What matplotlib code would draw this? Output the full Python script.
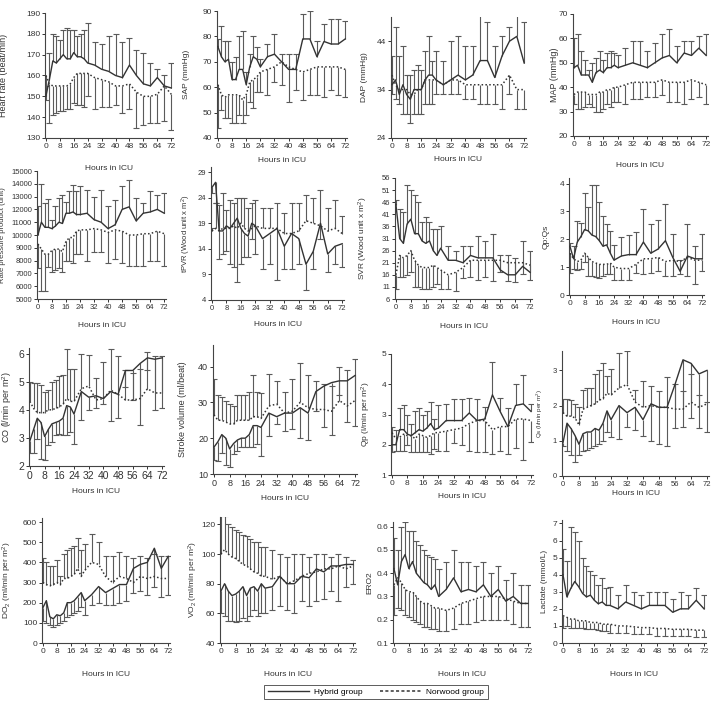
import numpy as np
import matplotlib
matplotlib.use("Agg")
from matplotlib import pyplot as plt
from matplotlib.lines import Line2D

plt.rcParams['font.family'] = ['Liberation Sans', 'DejaVu Sans']
plt.rcParams['mathtext.default'] = 'regular'

# hours in ICU (every 2 h to 24 h, then every 4 h)
hours = [0, 2, 4, 6, 8, 10, 12, 14, 16, 18, 20, 22, 24, 28, 32, 36, 40, 44, 48, 52, 56, 60, 64, 68, 72]
xticks = [0, 8, 16, 24, 32, 40, 48, 56, 64, 72]

# --- Heart rate
hr_hyb = [150, 158, 167, 166, 168, 170, 168, 168, 171, 169, 169, 168, 166, 165, 163, 162, 160, 159, 165, 160, 156, 155, 159, 155, 154]
hr_hyb_sd = [5, 13, 13, 13, 9, 12, 15, 14, 11, 10, 11, 14, 19, 11, 12, 17, 20, 17, 13, 12, 15, 11, 4, 5, 12]
hr_nor = [160, 156, 155, 155, 155, 155, 155, 156, 159, 161, 161, 161, 161, 159, 158, 157, 155, 155, 156, 152, 150, 150, 151, 155, 151]
hr_nor_sd = [12, 19, 14, 13, 12, 12, 11, 12, 12, 15, 15, 16, 11, 15, 13, 12, 9, 13, 12, 17, 14, 13, 14, 17, 17]

# --- SAP
sap_hyb = [76, 72, 70, 71, 63, 63, 67, 67, 61, 68, 72, 71, 68, 72, 73, 70, 67, 67, 79, 79, 72, 78, 77, 77, 79]
sap_hyb_sd = [3, 12, 8, 7, 7, 9, 13, 15, 5, 5, 8, 5, 3, 5, 8, 3, 6, 6, 10, 11, 6, 7, 10, 10, 7]
sap_nor = [61, 57, 56, 57, 57, 57, 57, 55, 57, 62, 63, 64, 66, 67, 68, 70, 68, 67, 66, 67, 68, 68, 68, 68, 67]
sap_nor_sd = [17, 6, 8, 9, 11, 11, 8, 9, 8, 8, 11, 6, 8, 10, 6, 9, 14, 8, 11, 10, 11, 12, 9, 11, 11]

# --- DAP
dap_hyb = [35, 36, 33, 35, 33, 32, 34, 34, 34, 36, 37, 37, 36, 35, 36, 37, 36, 37, 40, 40, 36.5, 41, 44, 45, 39.5]
dap_hyb_sd = [6, 11, 8, 8, 4, 5, 4, 5, 4, 6, 8, 3, 6, 5, 8, 8, 7, 6, 10, 8, 6.5, 4, 3, 5, 8.5]
dap_nor = [37, 35, 34, 34, 34, 33, 33, 34, 34, 36, 36, 36, 36, 35, 36, 36, 35, 35, 35, 35, 35, 35, 37, 34, 34]
dap_nor_sd = [4, 3, 3, 5, 5, 6, 4, 5, 5, 5, 5, 5, 3, 2, 3, 3, 3, 3, 4, 4, 4, 5, 4, 4, 4]

# --- MAP
map_hyb = [48, 49, 45, 45, 45, 42, 46, 47, 46, 48, 48, 49, 48, 49, 50, 49, 48, 50, 52, 53, 50, 54, 53, 56, 53]
map_hyb_sd = [12, 13, 10, 6, 2, 8, 6, 8, 5, 6, 7, 5, 5, 7, 9, 10, 7, 8, 10, 11, 7, 5, 6, 5, 9]
map_nor = [37, 38, 38, 38, 37, 37, 37, 38, 38, 39, 39, 40, 40, 41, 42, 42, 42, 42, 43, 42, 42, 42, 43, 42, 41]
map_nor_sd = [4, 7, 7, 6, 4, 5, 7, 8, 7, 6, 7, 6, 6, 8, 7, 7, 6, 6, 6, 8, 8, 9, 8, 6, 8]

# --- Rate pressure product
rpp_hyb = [10000, 11000, 10600, 10600, 10500, 10700, 11000, 10900, 11700, 11700, 11800, 11600, 11600,
           11700, 11200, 11000, 10500, 10800, 12000, 12200, 11100, 11700, 11800, 12000, 11700]
rpp_hyb_sd = [2300, 3000, 1900, 2200, 700, 1600, 1900, 2200, 900, 1700, 2100, 1800, 2200,
              1800, 1800, 2500, 1800, 1900, 1800, 2100, 1800, 800, 1600, 1100, 1600]
rpp_nor = [9300, 8900, 8500, 8500, 8800, 8900, 8900, 8700, 9500, 9800, 9800, 10300, 10400,
           10400, 10500, 10400, 10200, 10400, 10300, 10000, 10000, 10100, 10100, 10300, 10100]
rpp_nor_sd = [1900, 3300, 2900, 1000, 1700, 1600, 1500, 1600, 1500, 1800, 2000, 1800, 1900,
              2400, 1800, 1700, 2400, 2300, 2500, 2400, 2400, 2500, 2100, 2300, 2500]

# --- tPVR
tpvr_hyb = [26, 27, 17.5, 17.5, 18.5, 18, 19, 20, 18, 17, 16.5, 19, 18.5, 16, 17, 18, 14.5, 17, 16, 11, 13.5, 19, 13, 14.5, 15]
tpvr_hyb_sd = [1, 4, 5.5, 4.5, 5, 7, 8.5, 12.5, 7, 4.5, 4, 3, 5.5, 6, 6, 10, 4.5, 7, 5, 5, 3.5, 3, 3.5, 3.5, 4.5]
tpvr_nor = [17.5, 18, 17.5, 18, 18, 18, 18.5, 18, 19, 18, 17.5, 18, 18.5, 18, 18, 18, 17, 17, 17.5, 19.5, 19, 18.5, 17.5, 18, 17]
tpvr_nor_sd = [0.5, 5, 5, 7, 3.5, 5.5, 4.5, 6, 5, 6, 4.5, 5, 5, 4, 4, 5, 4, 6, 5.5, 5, 5, 7, 4.5, 5.5, 3.5]

# --- SVR
svr_hyb = [45, 31, 29, 37, 39, 33, 33, 30, 29, 30, 26, 24, 27, 22, 22, 21, 24, 23, 23, 23, 18, 16, 16, 19.5, 17]
svr_hyb_sd = [2, 12, 13, 16, 12, 16, 13, 8, 11, 8, 9, 11, 9, 6, 4, 7, 4, 9, 7, 10, 6, 8, 7, 10.5, 9]
svr_nor = [16, 24, 23, 24, 26, 22, 20, 19, 19, 19, 20, 19, 18, 16, 17, 19, 22, 22, 22, 22, 22, 21, 21, 21, 20]
svr_nor_sd = [6, 9, 8, 8, 9, 11, 9, 9, 9, 9, 9, 7, 8, 6, 7.5, 4.5, 7, 8, 7, 8.5, 5, 7.5, 8, 4.5, 6]

# --- Qp:Qs
qpqs_hyb = [1.75, 1.3, 1.9, 2.1, 2.35, 2.3, 2.15, 2.1, 1.95, 1.75, 1.8, 1.5, 1.25, 1.4, 1.45, 1.45, 1.9, 1.5, 1.65, 1.95, 1.35, 0.85, 1.4, 1.3, 1.3]
qpqs_hyb_sd = [0.1, 0.45, 0.75, 0.5, 1.3, 0.85, 1.8, 1.85, 1.4, 1.1, 0.75, 0.8, 0.55, 0.7, 0.7, 0.8, 1.2, 1.05, 1.05, 1.3, 0.85, 0.4, 1.15, 0.45, 0.9]
qpqs_nor = [1.5, 1.3, 1.2, 1.25, 1.5, 1.35, 1.2, 1.15, 1.1, 1.1, 1.1, 1.15, 1.0, 0.95, 0.95, 1.1, 1.3, 1.3, 1.35, 1.2, 1.25, 1.2, 1.35, 1.25, 1.25]
qpqs_nor_sd = [0.7, 0.35, 0.3, 0.3, 0.3, 0.65, 0.5, 0.5, 0.5, 0.4, 0.35, 0.4, 0.45, 0.4, 0.4, 0.3, 0.55, 0.5, 0.5, 0.5, 0.55, 0.45, 0.65, 0.85, 0.4]

# --- CO
co_hyb = [2.9, 3.3, 3.7, 3.55, 3.05, 3.3, 3.5, 3.55, 3.6, 3.7, 4.15, 4.1, 3.85, 4.65, 4.45, 4.5, 4.4, 4.65, 4.55, 5.4, 5.4, 5.65, 5.85, 5.8, 5.85]
co_hyb_sd = [0.45, 0.85, 0.75, 1.3, 0.85, 0.55, 0.65, 0.45, 0.45, 0.6, 1.05, 0.9, 1.05, 1.0, 0.45, 0.45, 0.2, 1.05, 0.85, 0.6, 1.05, 2.2, 0.45, 1.8, 1.8]
co_nor = [4.3, 4.05, 3.9, 3.9, 3.9, 4.0, 4.0, 4.05, 4.1, 4.2, 4.4, 4.3, 4.3, 4.75, 4.85, 4.35, 4.4, 4.7, 4.55, 4.35, 4.35, 4.4, 4.75, 4.6, 4.6]
co_nor_sd = [0.7, 0.9, 1.05, 1.0, 0.75, 0.7, 1.0, 1.0, 1.1, 1.05, 1.75, 1.15, 1.15, 1.25, 1.1, 0.8, 1.3, 1.45, 1.35, 1.05, 0.95, 1.05, 1.3, 1.3, 1.3]

# --- Stroke volume
sv_hyb = [17.5, 19, 21, 20, 17, 18.5, 19.5, 20, 20, 21, 23.5, 23.5, 23, 27, 26, 27, 27, 28.5, 27, 33, 34.5, 35.5, 36, 36, 37.5]
sv_hyb_sd = [3.5, 5.5, 5, 7.5, 5, 3, 3, 2.5, 2.5, 3.5, 6, 5, 8, 6.5, 2, 5, 4.5, 8.5, 7.5, 5.5, 11.5, 14.5, 4, 11.5, 14]
sv_nor = [26.5, 25, 25, 24.5, 24, 24, 25, 25, 25, 25, 26, 26, 25.5, 29, 29.5, 27, 27.5, 30, 28.5, 28, 28, 27.5, 30.5, 29, 30.5]
sv_nor_sd = [10, 7, 6.5, 6, 5.5, 5, 7, 7, 7, 8, 11.5, 7, 7, 9, 6.5, 6, 9, 11, 9, 8, 7, 7, 9.5, 10, 11.5]

# --- Qp
qp_hyb = [2.0, 2.0, 2.5, 2.5, 2.35, 2.3, 2.4, 2.5, 2.45, 2.55, 2.7, 2.5, 2.55, 2.8, 2.8, 2.8, 3.05, 2.8, 2.85, 3.65, 3.1, 2.6, 3.3, 3.35, 3.1]
qp_hyb_sd = [0.6, 0.5, 0.7, 0.8, 0.65, 0.4, 0.7, 0.7, 0.55, 0.55, 0.7, 0.35, 0.75, 0.55, 0.7, 0.7, 0.5, 0.7, 0.4, 1.1, 0.45, 0.6, 0.7, 0.95, 0.25]
qp_nor = [2.4, 2.2, 2.25, 2.35, 2.3, 2.3, 2.2, 2.35, 2.3, 2.25, 2.3, 2.4, 2.4, 2.45, 2.5, 2.55, 2.7, 2.8, 2.8, 2.5, 2.6, 2.6, 2.85, 2.85, 2.8]
qp_nor_sd = [0.65, 0.4, 0.45, 0.55, 0.3, 0.55, 0.45, 0.6, 0.55, 0.5, 0.6, 0.55, 0.6, 0.65, 0.45, 0.55, 0.9, 1.05, 1.05, 0.8, 0.8, 0.9, 0.95, 1.35, 0.7]

# --- Qs
qs_hyb = [0.95, 1.5, 1.35, 1.15, 0.9, 1.2, 1.25, 1.25, 1.35, 1.3, 1.5, 1.85, 1.6, 2.0, 1.8, 1.95, 1.6, 2.05, 1.95, 1.95, 2.6, 3.3, 3.2, 2.9, 3.0]
qs_hyb_sd = [0.1, 0.8, 0.75, 0.75, 0.3, 0.5, 0.5, 0.45, 0.5, 0.4, 0.5, 0.6, 0.5, 0.95, 0.4, 0.65, 0.45, 1.05, 1.05, 1.1, 1.25, 1.9, 1.55, 1.55, 1.75]
qs_nor = [1.8, 1.7, 1.7, 1.65, 1.45, 1.9, 1.95, 2.0, 2.05, 2.15, 2.2, 2.35, 2.3, 2.5, 2.6, 2.1, 1.95, 2.0, 1.95, 1.95, 1.9, 1.9, 2.1, 1.95, 2.05]
qs_nor_sd = [0.4, 0.5, 0.45, 0.4, 0.5, 0.55, 0.55, 0.5, 0.85, 0.85, 1.0, 0.5, 0.75, 1.0, 0.95, 0.35, 0.75, 0.55, 0.45, 0.85, 0.7, 0.5, 0.8, 0.35, 0.05]

# --- DO2
do2_hyb = [175, 210, 130, 120, 140, 135, 150, 200, 200, 210, 230, 250, 210, 240, 280, 250, 270, 290, 290, 370, 390, 400, 470, 370, 430]
do2_hyb_sd = [65, 110, 40, 40, 50, 35, 40, 70, 60, 60, 70, 70, 70, 50, 80, 60, 80, 90, 80, 120, 130, 160, 190, 140, 190]
do2_nor = [300, 290, 285, 290, 300, 290, 320, 320, 330, 340, 370, 330, 360, 400, 390, 330, 300, 330, 320, 300, 330, 320, 330, 320, 320]
do2_nor_sd = [120, 110, 95, 90, 110, 40, 120, 140, 140, 140, 150, 130, 130, 140, 110, 100, 130, 120, 110, 120, 100, 100, 110, 110, 110]

# --- VO2
vo2_hyb = [75, 80, 75, 72, 73, 75, 78, 72, 77, 78, 75, 80, 77, 78, 85, 80, 80, 85, 84, 90, 88, 92, 92, 93, 93]
vo2_hyb_sd = [15, 22, 20, 17, 19, 20, 21, 17, 19, 16, 17, 20, 17, 16, 20, 18, 20, 17, 19, 22, 18, 17, 24, 15, 13]
vo2_nor = [100, 103, 100, 98, 97, 95, 93, 92, 90, 88, 87, 85, 85, 83, 85, 80, 82, 85, 87, 88, 90, 90, 92, 90, 92]
vo2_nor_sd = [28, 23, 20, 20, 19, 20, 20, 20, 20, 20, 21, 20, 20, 20, 15, 18, 18, 15, 11, 12, 10, 8, 8, 8, 4]

# --- ERO2
ero2_hyb = [0.42, 0.35, 0.45, 0.48, 0.42, 0.45, 0.40, 0.38, 0.36, 0.35, 0.33, 0.35, 0.30, 0.33, 0.38, 0.32, 0.33, 0.32, 0.35, 0.30, 0.33, 0.28, 0.30, 0.27, 0.27]
ero2_hyb_sd = [0.13, 0.15, 0.15, 0.14, 0.16, 0.13, 0.14, 0.14, 0.14, 0.13, 0.14, 0.11, 0.12, 0.12, 0.12, 0.13, 0.12, 0.11, 0.10, 0.10, 0.10, 0.09, 0.10, 0.08, 0.08]
ero2_nor = [0.35, 0.38, 0.36, 0.33, 0.32, 0.32, 0.30, 0.28, 0.27, 0.27, 0.26, 0.25, 0.25, 0.24, 0.25, 0.27, 0.28, 0.29, 0.30, 0.30, 0.30, 0.29, 0.28, 0.27, 0.27]
ero2_nor_sd = [0.13, 0.13, 0.12, 0.11, 0.11, 0.12, 0.11, 0.10, 0.10, 0.10, 0.10, 0.09, 0.10, 0.09, 0.09, 0.09, 0.10, 0.10, 0.10, 0.10, 0.10, 0.09, 0.10, 0.10, 0.10]

# --- Lactate
lac_hyb = [4.0, 2.7, 3.2, 3.6, 3.3, 2.9, 2.7, 2.8, 2.5, 2.3, 2.4, 2.2, 2.2, 2.0, 2.4, 2.2, 2.0, 2.2, 2.2, 2.2, 1.8, 2.0, 2.0, 2.5, 2.0]
lac_hyb_sd = [1.5, 2.1, 3.6, 2.9, 2.7, 2.1, 1.8, 1.4, 1.5, 1.1, 1.4, 1.0, 1.1, 0.8, 1.0, 0.8, 0.8, 0.8, 0.8, 0.8, 0.8, 1.0, 0.8, 0.7, 0.8]
lac_nor = [1.6, 1.5, 1.4, 1.4, 1.3, 1.3, 1.3, 1.2, 1.2, 1.2, 1.1, 1.1, 1.1, 1.0, 1.0, 0.95, 0.9, 0.9, 0.85, 0.85, 0.8, 0.8, 0.8, 0.75, 0.75]
lac_nor_sd = [0.7, 0.5, 0.5, 0.5, 0.45, 0.45, 0.5, 0.4, 0.4, 0.45, 0.4, 0.4, 0.5, 0.4, 0.4, 0.45, 0.4, 0.4, 0.45, 0.45, 0.4, 0.4, 0.4, 0.4, 0.4]

# panel: data, bar directions (hybrid, norwood), ylabel, ylim, yticks,
# box in pixels (left, right, top, bottom), xlabel / ylabel offsets, font sizes
panels = [
    (hr_hyb, hr_hyb_sd, hr_nor, hr_nor_sd, (1, -1), "Heart rate (beat/min)", (130, 190), [130, 140, 150, 160, 170, 180, 190], (45, 173, 13, 138), 27, 37, 6.5, 6),
    (sap_hyb, sap_hyb_sd, sap_nor, sap_nor_sd, (1, -1), "SAP (mmHg)", (40, 90), [40, 50, 60, 70, 80, 90], (217, 347, 11, 138), 19, 27, 6, 6),
    (dap_hyb, dap_hyb_sd, dap_nor, dap_nor_sd, (1, -1), "DAP (mmHg)", (24, 49), [24, 34, 44], (391, 526, 17, 138), 18, 23, 6, 6),
    (map_hyb, map_hyb_sd, map_nor, map_nor_sd, (1, -1), "MAP (mmHg)", (20, 70), [20, 30, 40, 50, 60, 70], (573, 708, 14, 136), 26, 14, 6.5, 6),
    (rpp_hyb, rpp_hyb_sd, rpp_nor, rpp_nor_sd, (1, -1), "Rate pressure product (unit)", (5000, 15000), list(range(5000, 15001, 1000)), (37, 166, 171, 299), 23, 31, 5.5, 5.5),
    (tpvr_hyb, tpvr_hyb_sd, tpvr_nor, tpvr_nor_sd, (-1, 1), "tPVR (Wood unit x m$^2$)", (4, 30), [4, 9, 14, 19, 24, 29], (211, 344, 167, 300), 21, 18, 5.5, 5.5),
    (svr_hyb, svr_hyb_sd, svr_nor, svr_nor_sd, (1, -1), "SVR (Wood unit x m$^2$)", (6, 56), [6, 11, 16, 21, 26, 31, 36, 41, 46, 51, 56], (395, 532, 178, 299), 24, 25, 6, 5.5),
    (qpqs_hyb, qpqs_hyb_sd, qpqs_nor, qpqs_nor_sd, (1, -1), "Qp:Qs", (0, 4.2), [0, 1, 2, 3, 4], (569, 704, 178, 295), 24, 19, 6, 6),
    (co_hyb, co_hyb_sd, co_nor, co_nor_sd, (-1, 1), "CO (l/min per m$^2$)", (2, 6.2), [2, 3, 4, 5, 6], (29, 164, 348, 466), 22, 15, 6.5, 7.5),
    (sv_hyb, sv_hyb_sd, sv_nor, sv_nor_sd, (-1, 1), "Stroke volume (ml/beat)", (10, 46), [10, 20, 30, 40], (213, 357, 345, 474), 21, 26, 6.5, 6.5),
    (qp_hyb, qp_hyb_sd, qp_nor, qp_nor_sd, (1, -1), "Qp (l/min per m$^2$)", (1, 5), [1, 2, 3, 4, 5], (391, 533, 354, 475), 18, 18, 6, 6),
    (qs_hyb, qs_hyb_sd, qs_nor, qs_nor_sd, (-1, 1), "Qs (l/min per m$^2$)", (0, 3.55), [0, 1, 2, 3], (562, 709, 351, 476), 14, 17, 4.5, 5.5),
    (do2_hyb, do2_hyb_sd, do2_nor, do2_nor_sd, (-1, 1), "DO$_2$ (ml/min per m$^2$)", (0, 620), [0, 100, 200, 300, 400, 500, 600], (42, 170, 518, 643), 28, 28, 6, 6),
    (vo2_hyb, vo2_hyb_sd, vo2_nor, vo2_nor_sd, (-1, 1), "VO$_2$ (ml/min per m$^2$)", (40, 125), [40, 60, 80, 100, 120], (220, 355, 517, 643), 28, 20, 6, 6),
    (ero2_hyb, ero2_hyb_sd, ero2_nor, ero2_nor_sd, (1, -1), "ERO2", (0.1, 0.62), [0.1, 0.2, 0.3, 0.4, 0.5, 0.6], (393, 530, 522, 643), 28, 20, 6, 6),
    (lac_hyb, lac_hyb_sd, lac_nor, lac_nor_sd, (1, -1), "Lactate (mmol/L)", (0, 7.2), [0, 1, 2, 3, 4, 5, 6, 7], (562, 706, 520, 643), 28, 14, 6, 6),
]

W, H = 717, 702
fig = plt.figure(figsize=(W / 100, H / 100), dpi=100)
line_col = "#333333"
bar_col = "#5a5a5a"


def draw_bars(ax, x, mean, sd, direction):
    mean = np.asarray(mean, dtype=float)
    end = mean + direction * np.asarray(sd, dtype=float)
    ax.vlines(x, mean, end, color=bar_col, lw=0.8, zorder=2)
    ax.plot(x, end, ls="none", marker="_", ms=5, mew=0.8, color=bar_col, zorder=2)


for (hyb, hyb_sd, nor, nor_sd, dirs, ylab, ylim, yticks, box, xl_off, yl_off, yl_fs, tk_fs) in panels:
    L, R, T, B = box
    ax = fig.add_axes([L / W, 1 - B / H, (R - L) / W, (B - T) / H])
    draw_bars(ax, hours, hyb, hyb_sd, dirs[0])
    draw_bars(ax, hours, nor, nor_sd, dirs[1])
    ax.plot(hours, hyb, color=line_col, lw=1.0, zorder=3)
    ax.plot(hours, nor, color=line_col, lw=1.1, ls=(0, (1, 1.5)), zorder=3)
    ax.set_xlim(-0.5, 73)
    ax.set_ylim(*ylim)
    ax.set_xticks(xticks)
    ax.set_yticks(yticks)
    ax.spines["top"].set_visible(False)
    ax.spines["right"].set_visible(False)
    for s in ("left", "bottom"):
        ax.spines[s].set_color("#444444")
        ax.spines[s].set_linewidth(0.8)
    ax.tick_params(labelsize=tk_fs, length=2, width=0.7, pad=1.5, colors="#333333")
    ax.set_xlabel("Hours in ICU", fontsize=6, color="#333333")
    ax.xaxis.set_label_coords(0.5, -xl_off / (B - T))
    ax.set_ylabel(ylab, fontsize=yl_fs, color="#333333")
    ax.yaxis.set_label_coords(-yl_off / (R - L), 0.5)

handles = [Line2D([], [], color=line_col, lw=1.0),
           Line2D([], [], color=line_col, lw=1.1, ls=(0, (2, 1.5)))]
leg = fig.legend(handles, ["Hybrid group", "Norwood group"], loc="center",
                 bbox_to_anchor=(376 / W, 1 - 692 / H), ncol=2, fontsize=6,
                 frameon=True, fancybox=False, handlelength=5, columnspacing=2,
                 borderpad=0.4, handletextpad=0.6)
leg.get_frame().set_edgecolor("#333333")
leg.get_frame().set_linewidth(0.7)

fig.savefig("out.png", dpi=100)
